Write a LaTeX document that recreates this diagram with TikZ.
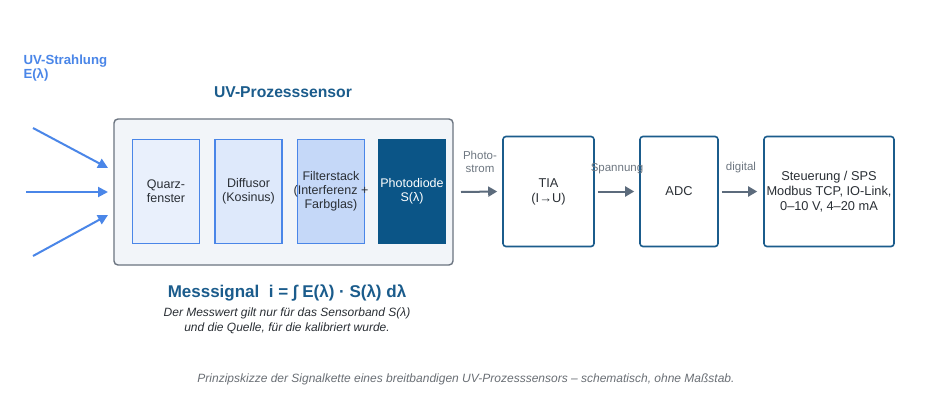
\documentclass[tikz,border=0pt]{standalone}
\usepackage{fontspec}
\setmainfont{Liberation Sans}
\usetikzlibrary{arrows.meta}
\definecolor{rayblue}{HTML}{4A86E8}
\definecolor{titleblue}{HTML}{1B5C8C}
\definecolor{dkblue}{HTML}{0B5587}
\definecolor{bordergray}{HTML}{6B7480}
\definecolor{outerfill}{HTML}{F2F5F9}
\definecolor{arrgray}{HTML}{5C6B7C}
\definecolor{lblgray}{HTML}{6E7781}
\definecolor{txtdark}{HTML}{2A2F35}
\definecolor{capgray}{HTML}{6A6F75}
\begin{document}
\begin{tikzpicture}[x=1pt,y=-1pt,
  layer/.style={draw=rayblue,line width=1.4pt,minimum width=67pt,minimum height=104pt,inner sep=0pt},
  layertext/.style={inner sep=0pt,align=center,font=\fontsize{12.5}{14}\selectfont,text=txtdark},
  chain/.style={draw=titleblue,line width=1.6pt,rounded corners=3pt,minimum height=110pt,inner sep=0pt,align=center,font=\fontsize{12.8}{15}\selectfont,text=txtdark},
  ray/.style={draw=rayblue,line width=2pt,-{Triangle[length=10pt,width=10pt]}},
  sig/.style={draw=arrgray,line width=2pt,-{Triangle[length=9pt,width=10pt]}},
  lbl/.style={font=\fontsize{11.5}{13.5}\selectfont,text=lblgray,align=center}]
\useasboundingbox (0,0) rectangle (930,400);
\fill[white] (0,0) rectangle (930,400);
% title labels
\node[anchor=west,align=left,text=rayblue,font=\bfseries\fontsize{13.2}{14.5}\selectfont] (uvs) at (20,68) {UV-Strahlung\\E(λ)};
\node[text=titleblue,font=\bfseries\fontsize{15.7}{18}\selectfont] (ttl) at (283,92) {UV-Prozesssensor};
% outer box
\node[draw=bordergray,fill=outerfill,line width=1.4pt,rounded corners=4pt,minimum width=339pt,minimum height=146pt,inner sep=0pt] (outer) at (283.5,192) {};
% layers
\node[layer,fill=rayblue!12] (quarz) at (166,191.5) {};
\node[layer,fill=rayblue!18] (diff) at (248.5,191.5) {};
\node[layer,fill=rayblue!32] (filt) at (331,191.5) {};
\node[layer,draw=dkblue,fill=dkblue] (pd) at (412,191.5) {};
\node[layertext] (quarzt) at (quarz.center) {Quarz-\\fenster};
\node[layertext] (difft) at (diff.center) {Diffusor\\(Kosinus)};
\node[layertext] (filtt) at (filt.center) {Filterstack\\(Interferenz +\\Farbglas)};
\node[layertext,text=white] (pdt) at (pd.center) {Photodiode\\S(λ)};
% incoming rays
\coordinate (r1) at (33,128);
\coordinate (r2) at (26,192);
\coordinate (r3) at (33,256);
\coordinate (e1) at (108,168);
\coordinate (e2) at (108,192);
\coordinate (e3) at (108,215);
\draw[ray] (r1) -- (e1);
\draw[ray] (r2) -- (e2);
\draw[ray] (r3) -- (e3);
% chain boxes
\node[chain,minimum width=91pt] (tia) at (548.5,191.5) {TIA\\(I→U)};
\node[chain,minimum width=78pt] (adc) at (679,191.5) {ADC};
\node[chain,minimum width=130pt] (sps) at (829,191.5) {Steuerung / SPS\\Modbus TCP, IO-Link,\\0–10 V, 4–20 mA};
% signal arrows
\coordinate (s0) at (461,192);
\draw[sig] (s0) -- ([xshift=-5pt]tia.west);
\draw[sig] ([xshift=3pt]tia.east) -- ([xshift=-5pt]adc.west);
\draw[sig] ([xshift=3pt]adc.east) -- ([xshift=-6pt]sps.west);
\node[lbl] (ph) at (480,162) {Photo-\\strom};
\node[lbl] (sp) at (617,169) {Spannung};
\node[lbl] (dg) at (741,168) {digital};
% bottom texts
\node[text=titleblue,font=\bfseries\fontsize{17}{20}\selectfont] (ms) at (287,293) {Messsignal\ \ i = ∫ E(λ) · S(λ) dλ};
\node[align=center,text=txtdark,font=\itshape\fontsize{12}{14.5}\selectfont] (note) at (287,321) {Der Messwert gilt nur für das Sensorband S(λ)\\und die Quelle, für die kalibriert wurde.};
\node[text=capgray,font=\itshape\fontsize{12}{14}\selectfont] (cap) at (466,379) {Prinzipskizze der Signalkette eines breitbandigen UV-Prozesssensors – schematisch, ohne Maßstab.};
\end{tikzpicture}
\end{document}
